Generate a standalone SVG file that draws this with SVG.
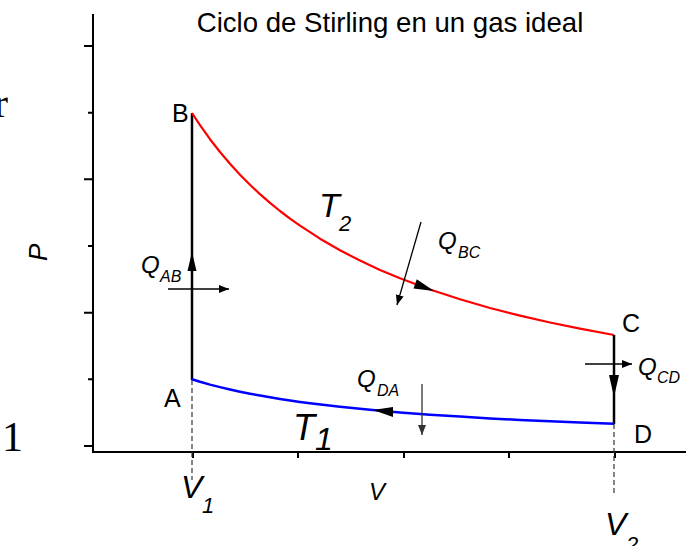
<svg xmlns="http://www.w3.org/2000/svg" width="686" height="546" viewBox="0 0 686 546">
<defs>
<style>
text{font-family:"Liberation Sans",Arial,sans-serif;fill:#000}
.it{font-style:italic}
.serif{font-family:"Liberation Serif","Times New Roman",serif}
.ax{stroke:#000;stroke-width:2;fill:none}
.tick{stroke:#000;stroke-width:2}
.dash{stroke:#333;stroke-width:1.2;stroke-dasharray:5 3;fill:none}
.heat{stroke:#000;stroke-width:1.3;fill:none;marker-end:url(#ah)}
.head{fill:#000;stroke:none}
</style>
<marker id="ah" viewBox="0 0 10 8" refX="10" refY="4" markerWidth="10" markerHeight="8" markerUnits="userSpaceOnUse" orient="auto">
<path d="M0,0 L10,4 L0,8 Z" fill="#000"/>
</marker>
<marker id="ahg" viewBox="0 0 10 8" refX="10" refY="4" markerWidth="10" markerHeight="8" markerUnits="userSpaceOnUse" orient="auto">
<path d="M0,0 L10,4 L0,8 Z" fill="#333"/>
</marker>
</defs>
<rect width="686" height="546" fill="#fff"/>

<g id="stray">
<text class="serif" x="-6" y="117" font-size="42">r</text>
<text class="serif" x="2" y="451" font-size="42">1</text>
</g>

<g id="axes">
<path class="ax" d="M93,14 V452 H686"/>
<path class="tick" d="M84,46H93 M88,112.7H93 M84,179.3H93 M88,246H93 M84,312.7H93 M88,379.3H93 M84,446H93"/>
<path class="tick" d="M193,452V458 M298,452V458 M404,452V458 M509,452V458 M615,452V458"/>
<text x="390" y="32" font-size="27.6" text-anchor="middle">Ciclo de Stirling en un gas ideal</text>
<text class="it" x="369" y="500" font-size="24">V</text>
<text class="it" font-size="26" transform="translate(47,261) rotate(-90)">P</text>
</g>

<g id="connectors">
<path class="dash" d="M192,380 V480"/>
<path class="dash" d="M614,424 V494"/>
<path id="AB" d="M192,380 V113" stroke="#000" stroke-width="2.5" fill="none"/>
<path id="BC" d="M192,113 L200,125.2 L210,139.2 L220,152 L230,163.8 L240,174.7 L250,184.8 L260,194.2 L270,202.9 L280,211 L290,218.6 L300,225.7 L320,238.7 L340,250.3 L360,260.6 L380,269.9 L400,278.3 L430,289.5 L460,299.3 L490,308 L520,315.6 L550,322.5 L580,328.7 L614,335" stroke="#ff0000" stroke-width="2.2" fill="none" stroke-linejoin="round"/>
<path id="CD" d="M614,335 V424" stroke="#000" stroke-width="2.5" fill="none"/>
<path id="DA" d="M614,423.8 L580,422.5 L550,421.3 L520,419.9 L490,418.4 L460,416.6 L430,414.7 L400,412.4 L370,409.8 L340,406.8 L310,403.2 L300,401.9 L290,400.5 L280,399 L270,397.3 L260,395.6 L250,393.7 L240,391.7 L230,389.5 L220,387.1 L210,384.6 L200,381.8 L192,379.3" stroke="#0000ff" stroke-width="2.5" fill="none" stroke-linejoin="round"/>
<polygon class="head" points="192,252 187.5,271 196.5,271"/>
<polygon class="head" points="434,290.9 413.5,288.6 416.8,279.2"/>
<polygon class="head" points="373,410.1 393,406.9 393,416.9"/>
<polygon class="head" points="614,397 609,375 619,375"/>
<path class="heat" d="M168,289 H229"/>
<path class="heat" d="M421,222 L397,305"/>
<path class="heat" d="M585,364 H632"/>
<path d="M422,384 V435" stroke="#333" stroke-width="1.3" fill="none" marker-end="url(#ahg)"/>
</g>

<g id="A"><text x="164" y="407" font-size="25">A</text></g>
<g id="B"><text x="172" y="122" font-size="25">B</text></g>
<g id="C"><text x="622" y="332" font-size="25">C</text></g>
<g id="D"><text x="634" y="443" font-size="25">D</text></g>

<g id="QAB"><text class="it" x="141" y="273" font-size="24">Q</text><text class="it" x="160" y="282" font-size="16">AB</text></g>
<g id="QBC"><text class="it" x="438" y="249" font-size="24">Q</text><text class="it" x="458" y="258" font-size="16">BC</text></g>
<g id="QCD"><text class="it" x="638" y="375" font-size="24">Q</text><text class="it" x="657" y="383" font-size="16">CD</text></g>
<g id="QDA"><text class="it" x="357" y="387" font-size="24">Q</text><text class="it" x="377" y="396" font-size="16">DA</text></g>

<g id="T2"><text class="it" x="319" y="217" font-size="34">T</text><text class="it" x="339" y="231" font-size="22">2</text></g>
<g id="T1"><text class="it" x="293" y="440" font-size="36">T</text><text class="it" x="315" y="450" font-size="32">1</text></g>

<g id="V1"><text class="it" x="181" y="498" font-size="32">V</text><text class="it" x="202" y="513" font-size="22">1</text></g>
<g id="V2"><text class="it" x="605" y="535" font-size="32">V</text><text class="it" x="626" y="552" font-size="22">2</text></g>
</svg>
